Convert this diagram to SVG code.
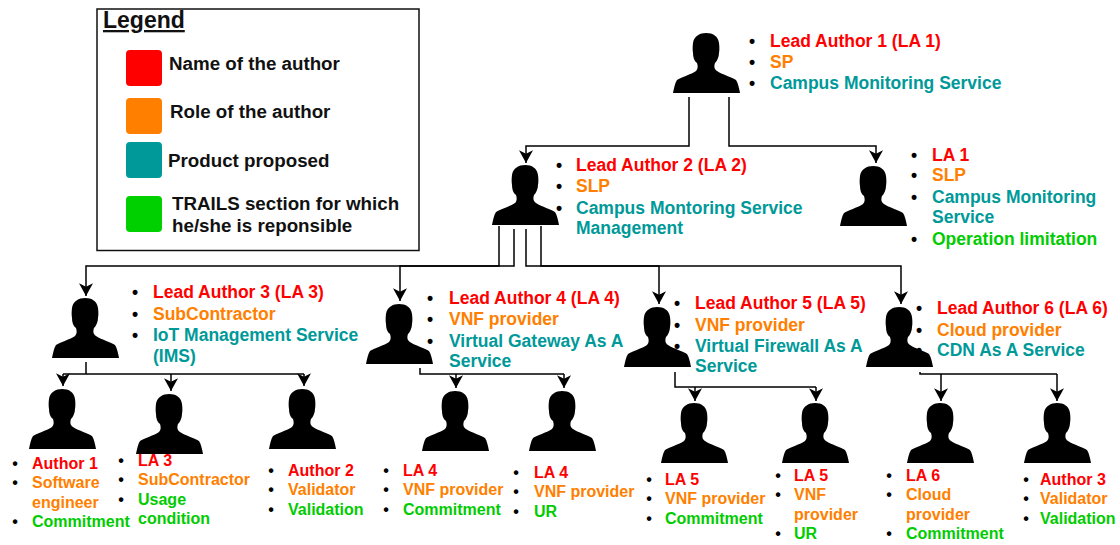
<svg xmlns="http://www.w3.org/2000/svg" xmlns:xlink="http://www.w3.org/1999/xlink" width="1120" height="545" viewBox="0 0 1120 545">
<style>
text{font-family:"Liberation Sans",Arial,sans-serif;font-weight:bold;font-size:16px}
.l text{font-size:17.5px}
.b{fill:#000;text-anchor:middle}
.r{fill:#ff0000}.o{fill:#ff8000}.t{fill:#009999}.g{fill:#00cc00}
.k{fill:#111;font-size:18.750px}
.c{fill:none;stroke:#000;stroke-width:1.5}
.a{marker-end:url(#arrow)}
</style>
<defs>
<marker id="arrow" markerUnits="userSpaceOnUse" markerWidth="14" markerHeight="14" refX="11" refY="6" orient="auto" viewBox="0 0 12 12"><path d="M0 0L11 6L0 12L3 6Z" fill="#000"/></marker>
<symbol id="person" width="68" height="61" viewBox="0 0 68 61" overflow="visible">
<path d="M0 60C1 55 2 50 4 47C8 44 17 42 23 38C25 36 25 33 24 30C21 28 20 24 20 20C19.500 17 19.500 14 20 10C21 3 27 0 33 0C40 0 45 3 46 10C46.500 14 46.500 17 46 20C46 24 44 28 42 30C41 33 41 36 44 38C50 42 59 44 63 47C65 50 66 55 67 60Z" fill="#000"/>
</symbol>
</defs>
<rect x="97" y="9" width="322" height="241.500" fill="#fff" stroke="#111" stroke-width="1.500"/>
<g id="legend">
<text x="103" y="28" style="font-size:23px;text-decoration:underline" fill="#111">Legend</text>
<rect x="126" y="50" width="36" height="36" rx="4" fill="#ff0000"/>
<rect x="126" y="98" width="36" height="36" rx="4" fill="#ff8000"/>
<rect x="126" y="142" width="36" height="36" rx="4" fill="#009999"/>
<rect x="126" y="196" width="36" height="36" rx="4" fill="#00d000"/>
<text class="k" x="169" y="70">Name of the author</text>
<text class="k" x="170" y="118">Role of the author</text>
<text class="k" x="168" y="167">Product proposed</text>
<text class="k" x="172" y="210">TRAILS section for which</text>
<text class="k" x="172" y="232">he/she is reponsible</text>
</g>
<g id="connectors">
<path class="c a" d="M689 97V146H526V163"/>
<path class="c a" d="M729 97V146H876V163"/>
<path class="c a" d="M499 226V266H86V296"/>
<path class="c a" d="M514 229V266H400V301"/>
<path class="c a" d="M526 229V266H659V304"/>
<path class="c a" d="M541 226V266H901V304"/>
<path class="c" d="M86 362V374"/>
<path class="c a" d="M63 374V386"/>
<path class="c a" d="M171 374V391"/>
<path class="c a" d="M304 374V386"/>
<path class="c" d="M63 374H304"/>
<path class="c" d="M420 368V374H564"/>
<path class="c a" d="M456 374V388"/>
<path class="c a" d="M564 374V388"/>
<path class="c" d="M675 372V387H816"/>
<path class="c a" d="M695 387V401"/>
<path class="c a" d="M816 387V401"/>
<path class="c" d="M920 372V374H1057"/>
<path class="c a" d="M941 374V401"/>
<path class="c a" d="M1057 374V401"/>
</g>
<g id="node-lead1" class="l"><use xlink:href="#person" href="#person" x="673" y="33"/>
<text class="b" x="752" y="47">•</text><text class="b" x="752" y="68">•</text><text class="b" x="752" y="89">•</text>
<text class="r" x="770" y="47">Lead Author 1 (LA 1)</text><text class="o" x="770" y="68">SP</text><text class="t" x="770" y="89">Campus Monitoring Service</text></g>
<g id="node-lead2" class="l"><use href="#person" x="492" y="165"/>
<text class="b" x="559" y="171">•</text><text class="b" x="559" y="192">•</text><text class="b" x="559" y="214">•</text>
<text class="r" x="576" y="171">Lead Author 2 (LA 2)</text><text class="o" x="576" y="192">SLP</text><text class="t" x="576" y="214">Campus Montoring Service</text><text class="t" x="576" y="234">Management</text></g>
<g id="node-la1" class="l"><use href="#person" x="840" y="166"/>
<text class="b" x="914" y="161">•</text><text class="b" x="914" y="181">•</text><text class="b" x="914" y="203">•</text><text class="b" x="914" y="245">•</text>
<text class="r" x="932" y="161">LA 1</text><text class="o" x="932" y="181">SLP</text><text class="t" x="932" y="203">Campus Monitoring</text><text class="t" x="932" y="223">Service</text><text class="g" x="932" y="245">Operation limitation</text></g>
<g id="node-lead3" class="l"><use href="#person" x="52" y="298"/>
<text class="b" x="135" y="298">•</text><text class="b" x="135" y="320">•</text><text class="b" x="135" y="341">•</text>
<text class="r" x="153" y="298">Lead Author 3 (LA 3)</text><text class="o" x="153" y="320">SubContractor</text><text class="t" x="153" y="341">IoT Management Service</text><text class="t" x="153" y="362">(IMS)</text></g>
<g id="node-lead4" class="l"><use href="#person" x="366" y="304"/>
<text class="b" x="430" y="304">•</text><text class="b" x="430" y="325">•</text><text class="b" x="430" y="347">•</text>
<text class="r" x="449" y="304">Lead Author 4 (LA 4)</text><text class="o" x="449" y="325">VNF provider</text><text class="t" x="449" y="347">Virtual Gateway As A</text><text class="t" x="449" y="367">Service</text></g>
<g id="node-lead5" class="l"><use href="#person" x="624" y="307"/>
<text class="b" x="677" y="309">•</text><text class="b" x="677" y="331">•</text><text class="b" x="677" y="352">•</text>
<text class="r" x="695" y="309">Lead Author 5 (LA 5)</text><text class="o" x="695" y="331">VNF provider</text><text class="t" x="695" y="352">Virtual Firewall As A</text><text class="t" x="695" y="372">Service</text></g>
<g id="node-lead6" class="l"><use href="#person" x="866" y="307"/>
<text class="b" x="919" y="314">•</text><text class="b" x="919" y="336">•</text><text class="b" x="919" y="356">•</text>
<text class="r" x="937" y="314">Lead Author 6 (LA 6)</text><text class="o" x="937" y="336">Cloud provider</text><text class="t" x="937" y="356">CDN As A Service</text></g>
<g id="node-author1"><use href="#person" x="29" y="389"/>
<text class="b" x="15" y="469">•</text><text class="b" x="15" y="488">•</text><text class="b" x="15" y="527">•</text>
<text class="r" x="32" y="469">Author 1</text><text class="o" x="32" y="488">Software</text><text class="o" x="32" y="508">engineer</text><text class="g" x="32" y="527">Commitment</text></g>
<g id="node-la3"><use href="#person" x="136" y="394"/>
<text class="b" x="121" y="466">•</text><text class="b" x="121" y="485">•</text><text class="b" x="121" y="505">•</text>
<text class="r" x="138" y="466">LA 3</text><text class="o" x="138" y="485">SubContractor</text><text class="g" x="138" y="505">Usage</text><text class="g" x="138" y="524">condition</text></g>
<g id="node-author2"><use href="#person" x="269" y="389"/>
<text class="b" x="271" y="476">•</text><text class="b" x="271" y="495">•</text><text class="b" x="271" y="515">•</text>
<text class="r" x="288" y="476">Author 2</text><text class="o" x="288" y="495">Validator</text><text class="g" x="288" y="515">Validation</text></g>
<g id="node-la4a"><use href="#person" x="422" y="391"/>
<text class="b" x="386" y="476">•</text><text class="b" x="386" y="495">•</text><text class="b" x="386" y="515">•</text>
<text class="r" x="403" y="476">LA 4</text><text class="o" x="403" y="495">VNF provider</text><text class="g" x="403" y="515">Commitment</text></g>
<g id="node-la4b"><use href="#person" x="529" y="391"/>
<text class="b" x="516" y="478">•</text><text class="b" x="516" y="497">•</text><text class="b" x="516" y="517">•</text>
<text class="r" x="534" y="478">LA 4</text><text class="o" x="534" y="497">VNF provider</text><text class="g" x="534" y="517">UR</text></g>
<g id="node-la5a"><use href="#person" x="661" y="403"/>
<text class="b" x="649" y="485">•</text><text class="b" x="649" y="504">•</text><text class="b" x="649" y="524">•</text>
<text class="r" x="665" y="485">LA 5</text><text class="o" x="665" y="504">VNF provider</text><text class="g" x="665" y="524">Commitment</text></g>
<g id="node-la5b"><use href="#person" x="782" y="403"/>
<text class="b" x="778" y="481">•</text><text class="b" x="778" y="500">•</text><text class="b" x="778" y="539">•</text>
<text class="r" x="794" y="481">LA 5</text><text class="o" x="794" y="500">VNF</text><text class="o" x="794" y="520">provider</text><text class="g" x="794" y="539">UR</text></g>
<g id="node-la6"><use href="#person" x="907" y="403"/>
<text class="b" x="889" y="481">•</text><text class="b" x="889" y="500">•</text><text class="b" x="889" y="539">•</text>
<text class="r" x="906" y="481">LA 6</text><text class="o" x="906" y="500">Cloud</text><text class="o" x="906" y="520">provider</text><text class="g" x="906" y="539">Commitment</text></g>
<g id="node-author3"><use href="#person" x="1024" y="403"/>
<text class="b" x="1026" y="485">•</text><text class="b" x="1026" y="504">•</text><text class="b" x="1026" y="524">•</text>
<text class="r" x="1040" y="485">Author 3</text><text class="o" x="1040" y="504">Validator</text><text class="g" x="1040" y="524">Validation</text></g>
</svg>
